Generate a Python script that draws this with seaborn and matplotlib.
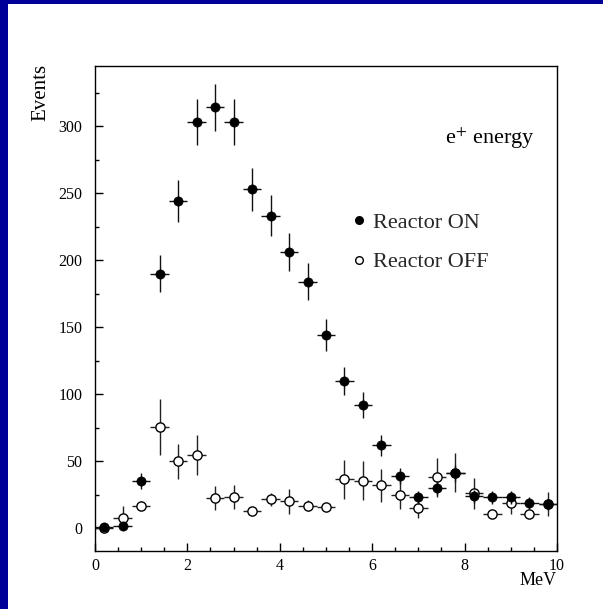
import numpy as np
import pandas as pd
import matplotlib
matplotlib.use("Agg")
import matplotlib.pyplot as plt
from matplotlib.lines import Line2D
from matplotlib.patches import Rectangle
import seaborn as sns

# ---- data ----
energy = [0.2, 0.6, 1.0, 1.4, 1.8, 2.2, 2.6, 3.0, 3.4, 3.8, 4.2, 4.6, 5.0,
          5.4, 5.8, 6.2, 6.6, 7.0, 7.4, 7.8, 8.2, 8.6, 9.0, 9.4, 9.8]
bin_half = 0.2
on_counts = [1, 2, 35, 190, 244, 303, 314, 303, 253, 233, 206, 184, 144,
             110, 92, 62, 39, 23, 30, 41, 24, 23, 23, 19, 18]
on_err = [1, 1.5, 6, 14, 15.5, 17.5, 17.7, 17.5, 16, 15.3, 14.4, 13.6, 12,
          10.5, 9.6, 7.9, 6.2, 4.8, 5.5, 6.4, 4.9, 4.8, 4.8, 4.4, 4.2]
off_counts = [0, 8, 17, 75.5, 50, 54.5, 22.6, 23.6, 13, 21.6, 20, 17, 15.7,
              36.5, 35.5, 32, 25, 15.4, 38, 41.5, 26, 11, 19, 11, 18]
off_err = [1, 8.7, 3.4, 21, 13, 15, 9, 9, 3, 4.7, 9, 4, 3,
           14.8, 14.5, 12.4, 10.8, 7.8, 14.8, 14.7, 11.8, 3, 8, 3, 9]
x_ticks = [0, 2, 4, 6, 8, 10]
y_ticks = [0, 50, 100, 150, 200, 250, 300]

df = pd.DataFrame({"E": energy * 2,
                   "N": on_counts + off_counts,
                   "err": on_err + off_err,
                   "state": ["Reactor ON"] * len(energy) + ["Reactor OFF"] * len(energy)})

sns.set_theme(style="ticks")
plt.rcParams["font.family"] = ["Liberation Serif", "DejaVu Serif"]
plt.rcParams["mathtext.fontset"] = "stix"

W, H = 603, 609
fig = plt.figure(figsize=(W / 100, H / 100), dpi=100)
fig.patch.set_facecolor("white")
# blue frame (left and top)
fig.patches.append(Rectangle((0, 0), 8 / W, 1, transform=fig.transFigure,
                             facecolor="#000099", edgecolor="none", zorder=0))
fig.patches.append(Rectangle((0, 1 - 3.5 / H), 1, 3.5 / H, transform=fig.transFigure,
                             facecolor="#000099", edgecolor="none", zorder=0))

ax = fig.add_axes([95 / W, 1 - 550.7 / H, (557 - 95) / W, (550.7 - 65.7) / H])

off = df[df.state == "Reactor OFF"]
on = df[df.state == "Reactor ON"]

ax.errorbar(off.E, off.N, yerr=off.err, xerr=bin_half, fmt="none",
            ecolor="#222222", elinewidth=1.0, capsize=0, zorder=2)
sns.scatterplot(data=off, x="E", y="N", ax=ax, s=44, marker="o",
                facecolor="white", edgecolor="black", linewidth=1.0, zorder=3,
                legend=False)
ax.errorbar(on.E, on.N, yerr=on.err, xerr=bin_half, fmt="none",
            ecolor="#111111", elinewidth=1.0, capsize=0, zorder=4)
sns.scatterplot(data=on, x="E", y="N", ax=ax, s=44, marker="o",
                color="black", edgecolor="black", linewidth=0.5, zorder=5,
                legend=False)

ax.set_xlim(0, 10)
ax.set_ylim(-16.7, 345)
ax.set_xticks(x_ticks)
ax.set_xticklabels([str(t) for t in x_ticks])
ax.set_yticks(y_ticks)
ax.set_yticklabels([str(t) for t in y_ticks])
ax.set_xticks(np.arange(0, 10.01, 0.5), minor=True)
ax.set_yticks(np.arange(0, 345, 25), minor=True)
ax.tick_params(axis="both", which="major", direction="in", length=6, width=1,
               labelsize=11.5, color="black", labelcolor="black")
ax.tick_params(axis="both", which="minor", direction="in", length=3, width=1,
               color="black")
ax.tick_params(axis="x", which="major", pad=5.5)
ax.tick_params(axis="y", which="major", pad=9)
ax.set_xlabel("")
ax.set_ylabel("")
for sp in ax.spines.values():
    sp.set_visible(True)
    sp.set_color("black")
    sp.set_linewidth(1.0)

fig.text(40.5 / W, 1 - 64 / H, "Events", rotation=90, ha="center", va="top",
         fontsize=15, color="black")
fig.text(557 / W, 1 - 580.5 / H, "MeV", ha="right", va="center",
         fontsize=13, color="black")

ax.text(0.953, 0.838, r"e$^{+}$ energy", transform=ax.transAxes, ha="right",
        va="baseline", fontsize=16, color="black")

handles = [Line2D([], [], marker="o", linestyle="none", markersize=5.5,
                  markerfacecolor="black", markeredgecolor="black"),
           Line2D([], [], marker="o", linestyle="none", markersize=5.5,
                  markerfacecolor="white", markeredgecolor="black",
                  markeredgewidth=1.0)]
leg = ax.legend(handles, ["Reactor ON", "Reactor OFF"], loc="upper left",
                bbox_to_anchor=(0.556, 0.698), frameon=False, fontsize=16,
                handlelength=0.6, handletextpad=0.36, labelspacing=0.86,
                borderpad=0, borderaxespad=0)

fig.savefig("out.png", dpi=100, facecolor="white")
